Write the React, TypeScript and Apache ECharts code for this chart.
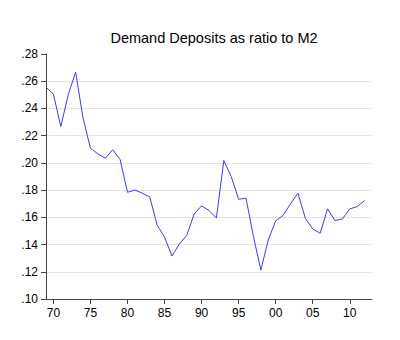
import React, { useEffect, useRef } from "react";
import * as echarts from "echarts";

const titleText = "Demand Deposits as ratio to M2";
const years = [
  1969, 1970, 1971, 1972, 1973, 1974, 1975, 1976, 1977, 1978, 1979,
  1980, 1981, 1982, 1983, 1984, 1985, 1986, 1987, 1988, 1989,
  1990, 1991, 1992, 1993, 1994, 1995, 1996, 1997, 1998, 1999,
  2000, 2001, 2002, 2003, 2004, 2005, 2006, 2007, 2008, 2009,
  2010, 2011, 2012,
];
const ratios = [
  0.2557, 0.2505, 0.2267, 0.250, 0.2667, 0.2329, 0.2108, 0.2066, 0.2035, 0.2096, 0.2025,
  0.1784, 0.1801, 0.1777, 0.1750, 0.1544, 0.1454, 0.1316, 0.1404, 0.1468, 0.1625,
  0.1684, 0.1650, 0.1596, 0.2017, 0.1899, 0.1733, 0.1740, 0.1458, 0.1213, 0.1434,
  0.1574, 0.1614, 0.1699, 0.1777, 0.1593, 0.1515, 0.1483, 0.1662, 0.1576, 0.1588,
  0.1662, 0.1679, 0.1723,
];
const xTickYears = [1970, 1975, 1980, 1985, 1990, 1995, 2000, 2005, 2010];

export default function App() {
  const ref = useRef<HTMLDivElement>(null);
  useEffect(() => {
    if (!ref.current) return;
    const chart = echarts.init(ref.current, null, { renderer: "svg" });
    const font = "'Liberation Sans', Arial, sans-serif";
    const gridColors = [
      "#e4e4e4", "#e4e4e4", "#e4e4e4", "#e4e4e4", "#e4e4e4",
      "#e4e4e4", "#e4e4e4", "#e4e4e4", "#e4e4e4", "rgba(0,0,0,0)",
    ];
    chart.setOption({
      animation: false,
      backgroundColor: "#ffffff",
      title: {
        text: titleText,
        left: 209,
        textAlign: "center",
        top: 25,
        textStyle: { fontFamily: font, fontSize: 14.5, fontWeight: "normal", color: "#000" },
      },
      grid: { left: 46, right: 28, top: 54, bottom: 41, containLabel: false },
      xAxis: {
        type: "value",
        min: 1969,
        max: 2013,
        axisLine: { show: true, lineStyle: { color: "#444", width: 1 } },
        axisTick: {
          show: true,
          length: 5,
          inside: false,
          customValues: xTickYears,
          lineStyle: { color: "#444" },
        },
        axisLabel: {
          customValues: xTickYears,
          margin: 8,
          fontFamily: font,
          fontSize: 12,
          color: "#000",
          formatter: (v: number) => String(Math.round(v) % 100).padStart(2, "0"),
        },
        splitLine: { show: false },
      },
      yAxis: {
        type: "value",
        min: 0.1,
        max: 0.28,
        interval: 0.02,
        axisLine: { show: true, lineStyle: { color: "#444", width: 1 } },
        axisTick: { show: true, length: 5, inside: false, lineStyle: { color: "#444" } },
        axisLabel: {
          margin: 8,
          fontFamily: font,
          fontSize: 12,
          color: "#000",
          formatter: (v: number) => v.toFixed(2).replace(/^0/, ""),
        },
        splitLine: { show: true, lineStyle: { color: gridColors, width: 1 } },
      },
      series: [
        {
          type: "line",
          data: years.map((y, i) => [y, ratios[i]]),
          showSymbol: false,
          symbol: "none",
          lineStyle: { color: "#3a3aff", width: 1 },
        },
      ],
    });
    return () => chart.dispose();
  }, []);
  return (
    <div
      ref={ref}
      style={{ position: "absolute", left: 0, top: 0, width: 400, height: 340 }}
    />
  );
}
